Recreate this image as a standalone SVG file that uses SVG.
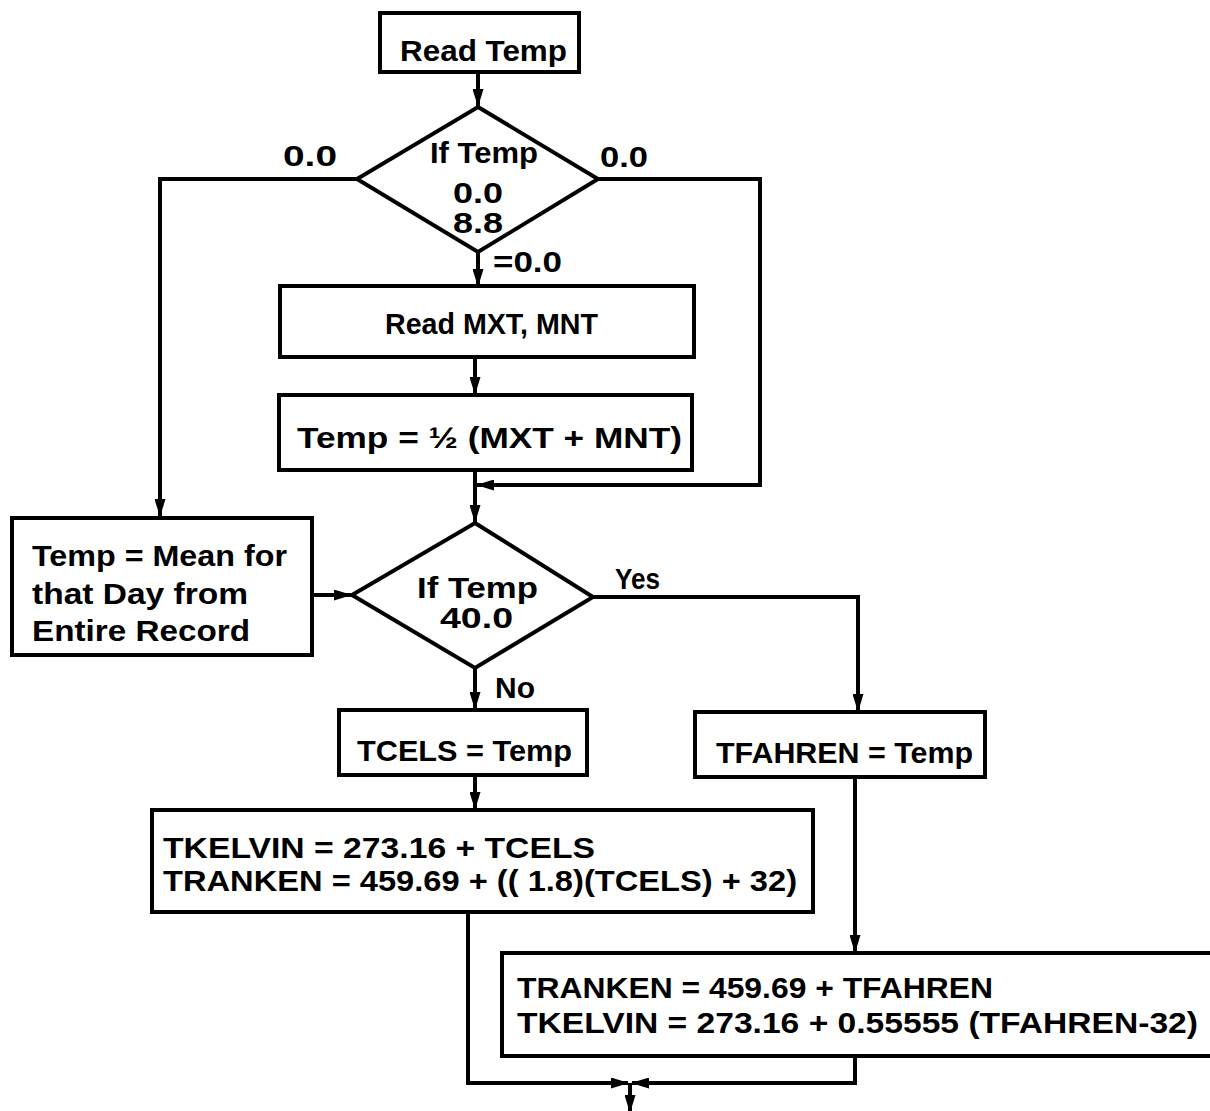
<svg xmlns="http://www.w3.org/2000/svg" width="1210" height="1111" viewBox="0 0 1210 1111">
<style>
.box{fill:#fff;stroke:#000;stroke-width:4}
.ln{fill:none;stroke:#000;stroke-width:4}
text{font-family:"Liberation Sans",Arial,sans-serif;font-weight:bold;font-size:30px;fill:#000}
.c{text-anchor:middle}
</style>
<defs>
<marker id="ah" markerUnits="userSpaceOnUse" markerWidth="18" markerHeight="11" refX="17" refY="5.5" orient="auto">
<path d="M0,0 L18,5.5 L0,11 z" fill="#000"/>
</marker>
</defs>
<rect width="1210" height="1111" fill="#fff"/>
<g id="connectors">
<path class="ln" d="M478,73 V106" marker-end="url(#ah)"/>
<path class="ln" d="M357,179 H160 V516" marker-end="url(#ah)"/>
<path class="ln" d="M598,179 H760 V485 H477" marker-end="url(#ah)"/>
<path class="ln" d="M478,252 V286" marker-end="url(#ah)"/>
<path class="ln" d="M475,357 V394" marker-end="url(#ah)"/>
<path class="ln" d="M475,470 V522" marker-end="url(#ah)"/>
<path class="ln" d="M312,595 H351" marker-end="url(#ah)"/>
<path class="ln" d="M593,597 H858 V711" marker-end="url(#ah)"/>
<path class="ln" d="M475,668 V709" marker-end="url(#ah)"/>
<path class="ln" d="M475,775 V809" marker-end="url(#ah)"/>
<path class="ln" d="M855,777 V952" marker-end="url(#ah)"/>
<path class="ln" d="M468,912 V1083 H628" marker-end="url(#ah)"/>
<path class="ln" d="M855,1056 V1083 H632" marker-end="url(#ah)"/>
<path class="ln" d="M630,1083 V1112" marker-end="url(#ah)"/>
</g>
<g id="read-temp">
<rect class="box" x="380" y="13" width="199" height="59"/>
<text x="400" y="61" textLength="167" lengthAdjust="spacingAndGlyphs">Read Temp</text>
</g>
<g id="decision1">
<polygon class="box" points="478,107 598,179 478,252 357,179"/>
<text x="430" y="163" textLength="108" lengthAdjust="spacingAndGlyphs">If Temp</text>
<text x="453" y="203" textLength="50" lengthAdjust="spacingAndGlyphs">0.0</text>
<text x="453" y="233" textLength="50" lengthAdjust="spacingAndGlyphs">8.8</text>
</g>
<g id="labels1">
<text x="283" y="166" textLength="54" lengthAdjust="spacingAndGlyphs">0.0</text>
<text x="600" y="167" textLength="48" lengthAdjust="spacingAndGlyphs">0.0</text>
<text x="493" y="272" textLength="69" lengthAdjust="spacingAndGlyphs">=0.0</text>
</g>
<g id="read-mxt">
<rect class="box" x="280" y="286" width="414" height="71"/>
<text x="385" y="334" textLength="213" lengthAdjust="spacingAndGlyphs">Read MXT, MNT</text>
</g>
<g id="temp-half">
<rect class="box" x="279" y="395" width="413" height="75"/>
<text x="297" y="448" textLength="385" lengthAdjust="spacingAndGlyphs">Temp = ½ (MXT + MNT)</text>
</g>
<g id="temp-mean">
<rect class="box" x="12" y="518" width="300" height="137"/>
<text x="32" y="566" textLength="255" lengthAdjust="spacingAndGlyphs">Temp = Mean for</text>
<text x="32" y="604" textLength="216" lengthAdjust="spacingAndGlyphs">that Day from</text>
<text x="32" y="641" textLength="218" lengthAdjust="spacingAndGlyphs">Entire Record</text>
</g>
<g id="decision2">
<polygon class="box" points="475,523 593,597 475,668 352,595"/>
<text x="417" y="598" textLength="121" lengthAdjust="spacingAndGlyphs">If Temp</text>
<text x="440" y="628" textLength="73" lengthAdjust="spacingAndGlyphs">40.0</text>
</g>
<g id="labels2">
<text x="615" y="589" textLength="45" lengthAdjust="spacingAndGlyphs">Yes</text>
<text x="495" y="698" textLength="40" lengthAdjust="spacingAndGlyphs">No</text>
</g>
<g id="tcels">
<rect class="box" x="339" y="710" width="248" height="65"/>
<text x="357" y="761" textLength="215" lengthAdjust="spacingAndGlyphs">TCELS = Temp</text>
</g>
<g id="tfahren">
<rect class="box" x="695" y="712" width="290" height="65"/>
<text x="716" y="763" textLength="257" lengthAdjust="spacingAndGlyphs">TFAHREN = Temp</text>
</g>
<g id="tkelvin-c">
<rect class="box" x="152" y="810" width="661" height="102"/>
<text x="163" y="858" textLength="432" lengthAdjust="spacingAndGlyphs">TKELVIN = 273.16 + TCELS</text>
<text x="163" y="891" textLength="634" lengthAdjust="spacingAndGlyphs">TRANKEN = 459.69 + (( 1.8)(TCELS) + 32)</text>
</g>
<g id="tranken-f">
<rect class="box" x="502" y="953" width="714" height="103"/>
<text x="517" y="998" textLength="476" lengthAdjust="spacingAndGlyphs">TRANKEN = 459.69 + TFAHREN</text>
<text x="517" y="1033" textLength="681" lengthAdjust="spacingAndGlyphs">TKELVIN = 273.16 + 0.55555 (TFAHREN-32)</text>
</g>
</svg>
